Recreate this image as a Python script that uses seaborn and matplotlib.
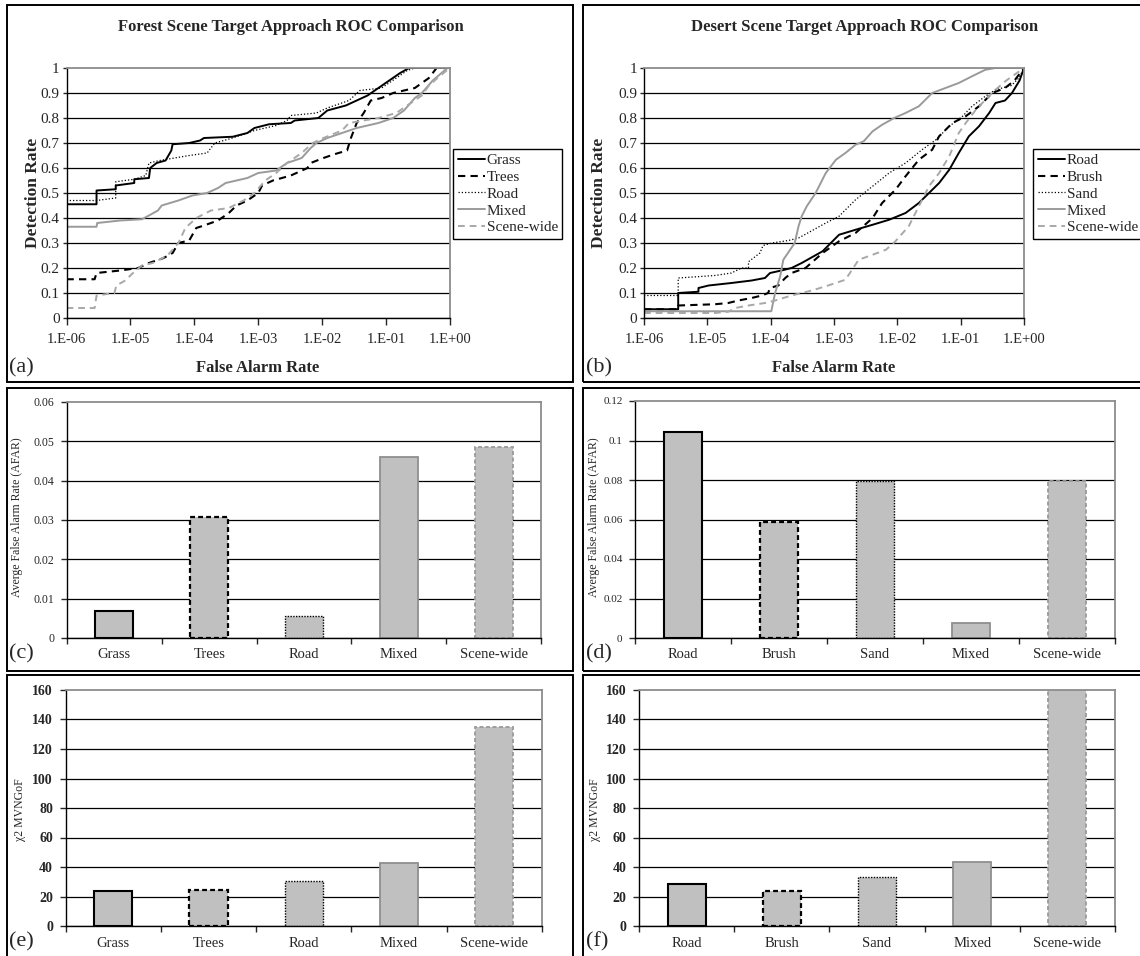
import numpy as np
import matplotlib
matplotlib.use("Agg")  # headless backend
import matplotlib.pyplot as plt
import seaborn as sns
from matplotlib.patches import Rectangle

# ── Data ─────────────────────────────────────────────────────────────────────
forest_labels = ["Grass", "Trees", "Road", "Mixed", "Scene-wide"]
desert_labels = ["Road", "Brush", "Sand", "Mixed", "Scene-wide"]

# ROC curves: log10(false alarm rate) and detection rate
forest_grass_lf = [-6.00, -5.53, -5.53, -5.23, -5.23, -4.94, -4.94, -4.71, -4.69, -4.59, -4.45, -4.36,
                   -4.34, -4.08, -3.91, -3.85, -3.40, -3.17, -3.06, -2.83, -2.49, -2.43, -2.06, -1.92,
                   -1.63, -1.46, -1.29, -1.12, -0.95, -0.78, -0.64, 0.00]
forest_grass_pd = [0.455, 0.455, 0.51, 0.515, 0.53, 0.54, 0.555, 0.56, 0.60, 0.62, 0.63, 0.67,
                   0.695, 0.70, 0.71, 0.72, 0.725, 0.74, 0.76, 0.775, 0.78, 0.79, 0.80, 0.83,
                   0.85, 0.87, 0.89, 0.92, 0.95, 0.98, 1.0, 1.0]
forest_trees_lf = [-6.00, -5.56, -5.53, -5.16, -4.88, -4.71, -4.48, -4.34, -4.25, -4.08, -3.97, -3.85,
                   -3.63, -3.46, -3.34, -3.17, -3.00, -2.94, -2.77, -2.49, -2.23, -2.18, -1.98, -1.81,
                   -1.61, -1.55, -1.46, -1.35, -1.24, -1.07, -0.89, -0.55, -0.33, -0.21, 0.00]
forest_trees_pd = [0.155, 0.155, 0.18, 0.19, 0.20, 0.22, 0.24, 0.26, 0.30, 0.31, 0.36, 0.37,
                   0.39, 0.42, 0.45, 0.47, 0.50, 0.53, 0.55, 0.57, 0.60, 0.62, 0.64, 0.655,
                   0.67, 0.72, 0.78, 0.82, 0.87, 0.88, 0.90, 0.92, 0.96, 1.0, 1.0]
forest_road_lf = [-6.00, -5.53, -5.23, -5.23, -4.94, -4.76, -4.71, -4.54, -4.31, -4.08, -3.80, -3.68,
                  -3.40, -3.06, -2.72, -2.55, -2.49, -2.09, -1.92, -1.58, -1.41, -1.07, -0.84, -0.67,
                  -0.55, 0.00]
forest_road_pd = [0.47, 0.47, 0.48, 0.545, 0.555, 0.57, 0.62, 0.63, 0.64, 0.65, 0.66, 0.70,
                  0.72, 0.75, 0.77, 0.79, 0.81, 0.82, 0.84, 0.87, 0.91, 0.92, 0.96, 0.99,
                  1.0, 1.0]
forest_mixed_lf = [-6.00, -5.53, -5.52, -5.16, -4.82, -4.71, -4.57, -4.51, -4.25, -4.03, -3.80, -3.63,
                   -3.51, -3.17, -3.00, -2.72, -2.55, -2.32, -2.18, -2.09, -1.92, -1.69, -1.46, -1.12,
                   -0.89, -0.72, -0.55, -0.44, -0.27, -0.04, 0.00]
forest_mixed_pd = [0.365, 0.365, 0.38, 0.39, 0.395, 0.41, 0.43, 0.45, 0.47, 0.49, 0.50, 0.52,
                   0.54, 0.56, 0.58, 0.59, 0.62, 0.64, 0.68, 0.70, 0.72, 0.74, 0.76, 0.78,
                   0.80, 0.83, 0.88, 0.90, 0.95, 1.0, 1.0]
forest_scene_lf = [-6.00, -5.56, -5.53, -5.25, -5.22, -5.08, -4.96, -4.82, -4.65, -4.42, -4.25, -4.14,
                   -3.97, -3.74, -3.46, -3.23, -3.06, -2.89, -2.72, -2.55, -2.32, -2.15, -1.98, -1.69,
                   -1.58, -1.12, -0.84, -0.67, -0.44, -0.33, -0.15, 0.00]
forest_scene_pd = [0.04, 0.04, 0.09, 0.10, 0.13, 0.15, 0.18, 0.21, 0.22, 0.25, 0.30, 0.36,
                   0.40, 0.43, 0.44, 0.47, 0.50, 0.55, 0.58, 0.62, 0.66, 0.70, 0.72, 0.75,
                   0.78, 0.80, 0.82, 0.85, 0.89, 0.93, 0.97, 1.0]

desert_road_lf = [-6.00, -5.46, -5.46, -5.14, -5.14, -4.98, -4.62, -4.30, -4.09, -4.01, -3.83, -3.67,
                  -3.51, -3.18, -2.92, -2.66, -2.39, -2.13, -1.87, -1.66, -1.50, -1.34, -1.18, -1.03,
                  -0.87, -0.71, -0.55, -0.45, -0.30, -0.19, -0.07, 0.00]
desert_road_pd = [0.035, 0.035, 0.10, 0.105, 0.12, 0.13, 0.14, 0.15, 0.16, 0.18, 0.19, 0.20,
                  0.22, 0.267, 0.333, 0.353, 0.373, 0.393, 0.42, 0.46, 0.50, 0.54, 0.593, 0.66,
                  0.727, 0.767, 0.82, 0.86, 0.87, 0.90, 0.95, 1.0]
desert_brush_lf = [-6.00, -5.46, -5.46, -4.88, -4.67, -4.51, -4.30, -4.14, -4.04, -4.01, -3.88, -3.77,
                   -3.67, -3.45, -3.18, -2.92, -2.66, -2.39, -2.24, -2.03, -1.87, -1.66, -1.45, -1.34,
                   -1.13, -0.92, -0.71, -0.50, -0.30, -0.15, 0.00]
desert_brush_pd = [0.035, 0.035, 0.05, 0.055, 0.06, 0.07, 0.08, 0.09, 0.10, 0.12, 0.13, 0.16,
                   0.18, 0.20, 0.26, 0.307, 0.34, 0.40, 0.46, 0.513, 0.567, 0.633, 0.673, 0.727,
                   0.78, 0.807, 0.847, 0.90, 0.92, 0.95, 1.0]
desert_sand_lf = [-6.00, -5.46, -5.46, -4.88, -4.62, -4.46, -4.35, -4.35, -4.17, -4.12, -3.98, -3.72,
                  -3.56, -3.45, -3.13, -2.92, -2.66, -2.39, -2.13, -1.87, -1.61, -1.39, -1.18, -0.97,
                  -0.82, -0.61, -0.45, -0.20, -0.08, 0.00]
desert_sand_pd = [0.09, 0.09, 0.16, 0.17, 0.18, 0.20, 0.20, 0.225, 0.26, 0.29, 0.30, 0.31,
                  0.32, 0.335, 0.38, 0.407, 0.473, 0.527, 0.58, 0.62, 0.673, 0.713, 0.767, 0.807,
                  0.847, 0.887, 0.913, 0.93, 0.96, 1.0]
desert_mixed_lf = [-6.00, -3.99, -3.93, -3.85, -3.80, -3.62, -3.56, -3.51, -3.43, -3.29, -3.13, -2.97,
                   -2.82, -2.66, -2.53, -2.39, -2.24, -2.05, -1.87, -1.66, -1.45, -1.24, -1.03, -0.82,
                   -0.61, -0.45, 0.00]
desert_mixed_pd = [0.027, 0.027, 0.10, 0.167, 0.233, 0.30, 0.367, 0.407, 0.447, 0.50, 0.58, 0.633,
                   0.66, 0.693, 0.707, 0.747, 0.773, 0.80, 0.82, 0.847, 0.90, 0.92, 0.94, 0.967,
                   0.993, 1.0, 1.0]
desert_scene_lf = [-6.00, -4.88, -4.67, -4.56, -4.35, -4.09, -3.93, -3.67, -3.51, -3.35, -3.13, -2.82,
                   -2.61, -2.39, -2.18, -2.03, -1.82, -1.66, -1.50, -1.34, -1.18, -1.03, -0.92, -0.76,
                   -0.61, -0.45, -0.28, 0.00]
desert_scene_pd = [0.02, 0.02, 0.025, 0.04, 0.05, 0.06, 0.07, 0.09, 0.10, 0.11, 0.127, 0.153,
                   0.233, 0.253, 0.273, 0.307, 0.367, 0.447, 0.527, 0.58, 0.647, 0.74, 0.78, 0.833,
                   0.873, 0.913, 0.95, 1.0]

# Bar charts
forest_afar = [0.0069, 0.0307, 0.0056, 0.0461, 0.0486]
desert_afar = [0.1044, 0.0586, 0.0793, 0.0075, 0.0793]
forest_gof = [23.8, 24.4, 30.8, 42.5, 134.8]
desert_gof = [28.5, 23.8, 33.3, 43.7, 175.0]   # last bar runs off the top of the axis

x_tick_labels = ["1.E-06", "1.E-05", "1.E-04", "1.E-03", "1.E-02", "1.E-01", "1.E+00"]

# ── Styling ──────────────────────────────────────────────────────────────────
W, H = 1140, 956
GRAY_BORDER = "#8c8c8c"
BAR_FILL = "#c0c0c0"
LINE_STYLES = [
    ("black", "-", 1.4),
    ("black", (0, (3.5, 2.5)), 1.5),
    ("black", (0, (1, 1.6)), 0.9),
    ("#9a9a9a", "-", 1.4),
    ("#a8a8a8", (0, (3.5, 2.5)), 1.4),
]
BAR_EDGES = [
    ("black", "-", 1.5),
    ("black", (0, (2.2, 1.4)), 1.6),
    ("black", (0, (1, 1)), 1.0),
    ("#8f8f8f", "-", 1.3),
    ("#9a9a9a", (0, (2.2, 1.4)), 1.3),
]

sns.set_theme(style="white")
plt.rcParams["font.family"] = ["Liberation Serif", "DejaVu Serif"]
plt.rcParams["mathtext.fontset"] = "stix"


def frac(l, t, r, b):
    return [l / W, 1 - b / H, (r - l) / W, (b - t) / H]


def fig_text(fig, x, y, s, **kw):
    fig.text(x / W, 1 - y / H, s, ha=kw.pop("ha", "center"), va=kw.pop("va", "center"), **kw)


def style_frame(ax):
    for side in ["left", "bottom"]:
        ax.spines[side].set_color("black")
        ax.spines[side].set_linewidth(1.0)
    for side in ["top", "right"]:
        ax.spines[side].set_color(GRAY_BORDER)
        ax.spines[side].set_linewidth(1.3)
    ax.set_axisbelow(True)
    ax.yaxis.grid(True, color="black", lw=0.9)
    ax.xaxis.grid(False)
    ax.get_ygridlines()[-1].set_visible(False)


# ── ROC panels ───────────────────────────────────────────────────────────────
def roc_panel(fig, ax, curves, labels, legend_xy):
    for (lf, pdet), name, (c, ls, lw) in zip(curves, labels, LINE_STYLES):
        sns.lineplot(x=10 ** np.array(lf), y=pdet, ax=ax, sort=False, estimator=None,
                     color=c, linestyle=ls, lw=lw, label=name)
    ax.set_xscale("log")
    ax.set_xlim(1e-6, 1)
    ax.set_ylim(0, 1)
    ax.set_xticks(10.0 ** np.arange(-6, 1))
    ax.set_xticklabels(x_tick_labels)
    ax.minorticks_off()
    yt = np.round(np.arange(0, 1.01, 0.1), 1)
    ax.set_yticks(yt)
    ax.set_yticklabels([f"{v:g}" for v in yt])
    ax.tick_params(axis="x", length=5, width=1, direction="out", pad=6, labelsize=10.5, bottom=True)
    ax.tick_params(axis="y", length=3, width=1, direction="out", pad=2, labelsize=11, left=True)
    ax.set_xlabel("")
    ax.set_ylabel("")
    style_frame(ax)
    leg = ax.legend(loc="upper left", bbox_to_anchor=(legend_xy[0] / W, 1 - legend_xy[1] / H),
                    bbox_transform=fig.transFigure, frameon=True, fancybox=False,
                    edgecolor="black", framealpha=1, fontsize=11, handlelength=1.8,
                    handletextpad=0.1, labelspacing=0.2, borderpad=0.3, borderaxespad=0)
    leg.get_frame().set_linewidth(1.0)


# ── Bar panels ───────────────────────────────────────────────────────────────
def bar_panel(ax, cats, vals, ymax, nstep, tick_size, tick_weight, pad):
    sns.barplot(x=cats, y=vals, hue=cats, palette=[BAR_FILL] * len(cats), width=0.4,
                saturation=1, legend=False, ax=ax)
    for patch, (ec, ls, lw) in zip(ax.patches, BAR_EDGES):
        patch.set_edgecolor(ec)
        patch.set_linestyle(ls)
        patch.set_linewidth(lw)
    ax.set_xlim(-0.5, len(cats) - 0.5)
    ax.set_ylim(0, ymax)
    yt = np.round(np.linspace(0, ymax, nstep + 1), 4)
    ax.set_yticks(yt)
    ax.set_yticklabels([f"{v:g}" for v in yt], fontsize=tick_size, fontweight=tick_weight)
    ax.set_xticks(np.arange(-0.5, len(cats), 1.0), minor=True)
    ax.tick_params(axis="x", which="major", length=0, pad=pad, labelsize=10.5)
    ax.tick_params(axis="x", which="minor", length=4, width=1, direction="out", bottom=True)
    ax.tick_params(axis="y", length=4, width=1, direction="out", pad=5, left=True)
    ax.set_xlabel("")
    ax.set_ylabel("")
    style_frame(ax)


fig = plt.figure(figsize=(W / 100, H / 100), dpi=100)

# panel frames
for l, t, r, b in [(7, 5, 573, 382), (583, 5, 1150, 382), (7, 388, 573, 671),
                   (583, 388, 1150, 671), (7, 675, 573, 966), (583, 675, 1150, 966)]:
    fig.patches.append(Rectangle((l / W, 1 - b / H), (r - l) / W, (b - t) / H,
                                 transform=fig.transFigure, fill=False,
                                 edgecolor="black", lw=1.4))

ax_a = fig.add_axes(frac(66.5, 68, 450, 318))
roc_panel(fig, ax_a,
          [(forest_grass_lf, forest_grass_pd), (forest_trees_lf, forest_trees_pd),
           (forest_road_lf, forest_road_pd), (forest_mixed_lf, forest_mixed_pd),
           (forest_scene_lf, forest_scene_pd)],
          forest_labels, (453, 149))

ax_b = fig.add_axes(frac(644, 68, 1024, 318))
roc_panel(fig, ax_b,
          [(desert_road_lf, desert_road_pd), (desert_brush_lf, desert_brush_pd),
           (desert_sand_lf, desert_sand_pd), (desert_mixed_lf, desert_mixed_pd),
           (desert_scene_lf, desert_scene_pd)],
          desert_labels, (1033, 149))

ax_c = fig.add_axes(frac(67, 402, 541, 638))
bar_panel(ax_c, forest_labels, forest_afar, 0.06, 6, 8.5, "normal", 7)
ax_d = fig.add_axes(frac(635, 401, 1115, 638))
bar_panel(ax_d, desert_labels, desert_afar, 0.12, 6, 8, "normal", 7)
ax_e = fig.add_axes(frac(65.5, 690, 542, 926))
bar_panel(ax_e, forest_labels, forest_gof, 160, 8, 10, "bold", 8)
ax_f = fig.add_axes(frac(639, 690, 1115, 926))
bar_panel(ax_f, desert_labels, desert_gof, 160, 8, 10, "bold", 8)

# titles, axis labels, panel letters
fig_text(fig, 291, 27, "Forest Scene Target Approach ROC Comparison", fontsize=12, fontweight="bold")
fig_text(fig, 865, 27, "Desert Scene Target Approach ROC Comparison", fontsize=12, fontweight="bold")
fig_text(fig, 258, 368, "False Alarm Rate", fontsize=12, fontweight="bold")
fig_text(fig, 834, 368, "False Alarm Rate", fontsize=12, fontweight="bold")
fig_text(fig, 33, 193, "Detection Rate", fontsize=12.5, fontweight="bold", rotation=90)
fig_text(fig, 599, 193, "Detection Rate", fontsize=12.5, fontweight="bold", rotation=90)
fig_text(fig, 17, 517, "Averge False Alarm Rate (AFAR)", fontsize=8.5, rotation=90)
fig_text(fig, 594, 517, "Averge False Alarm Rate (AFAR)", fontsize=8.5, rotation=90)
fig_text(fig, 20, 810, "χ2 MVNGoF", fontsize=8.5, rotation=90)
fig_text(fig, 595, 810, "χ2 MVNGoF", fontsize=8.5, rotation=90)
for letter, x, y in [("(a)", 9, 368), ("(b)", 586, 368), ("(c)", 9, 654),
                     ("(d)", 586, 654), ("(e)", 9, 942), ("(f)", 586, 942)]:
    fig_text(fig, x, y, letter, fontsize=16, ha="left")

fig.savefig("out.png", dpi=100)
plt.close(fig)
